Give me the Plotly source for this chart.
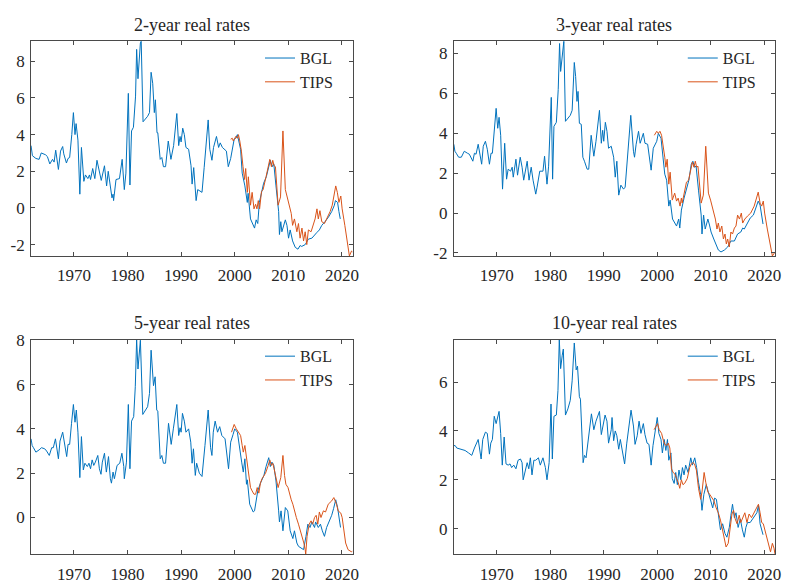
import plotly.graph_objects as go

# ---------------- data ----------------
TITLES = ["2-year real rates", "3-year real rates", "5-year real rates", "10-year real rates"]
X_TICKS = [1970, 1980, 1990, 2000, 2010, 2020]
Y_TICKS = [-2, 0, 2, 4, 6, 8]
Y_TICK_LABELS = ["-2", "0", "2", "4", "6", "8"]

BGL2_YEARS = [1962.0,1962.25,1962.9,1963.5,1963.9,1964.7,1965.05,1965.5,1966.0,1966.3,1966.6,1967.1,1967.5,1967.9,1968.1,1968.6,1968.9,1969.2,1969.6,1969.9,1970.2,1970.4,1970.75,1971.1,1971.4,1971.85,1972.15,1972.6,1972.9,1973.1,1973.5,1973.9,1974.3,1974.8,1975.1,1975.7,1976.1,1976.4,1976.8,1977.1,1977.3,1977.4,1977.85,1978.5,1979.0,1979.4,1979.7,1980.15,1980.45,1980.75,1981.1,1981.5,1981.7,1981.95,1982.4,1982.55,1982.9,1983.3,1983.75,1984.1,1984.4,1984.7,1985.0,1985.2,1985.5,1985.65,1986.1,1986.4,1986.7,1987.1,1987.6,1988.1,1988.6,1989.2,1989.55,1989.8,1990.0,1990.3,1990.6,1990.9,1991.4,1991.85,1992.05,1992.35,1992.8,1993.1,1993.5,1993.9,1994.3,1994.6,1995.05,1995.35,1995.75,1996.05,1996.6,1997.0,1997.3,1997.7,1998.45,1998.8,1999.25,1999.9,2000.2,2000.5,2000.9,2001.1,2001.4,2001.9,2002.35,2002.5,2002.95,2003.45,2003.7,2004.0,2004.3,2004.6,2005.1,2005.4,2005.9,2006.35,2006.65,2007.0,2007.3,2007.7,2008.2,2008.35,2008.6,2008.8,2009.45,2009.75,2010.05,2010.35,2010.8,2011.3,2011.8,2012.2,2012.5,2013.15,2013.75,2014.4,2014.9,2015.3,2015.8,2016.25,2016.85,2017.5,2018.1,2018.6,2018.8,2019.2,2019.45,2019.7]
BGL2_VALUES = [3.4,2.85,2.7,2.65,3.0,2.9,2.8,2.4,2.65,2.5,3.15,2.1,3.1,3.35,2.95,2.45,2.7,2.75,4.0,5.2,4.0,4.6,3.7,0.75,3.3,1.45,1.8,1.6,1.8,1.55,2.15,1.6,2.6,1.9,1.5,2.3,1.2,2.0,1.0,0.55,0.75,0.4,1.55,1.6,2.65,1.0,1.9,6.25,1.25,4.2,4.4,6.1,8.65,7.05,9.0,9.1,4.7,4.85,5.0,5.2,7.4,6.8,5.2,5.9,4.1,4.1,2.65,2.75,2.25,2.25,3.65,2.65,3.4,5.15,3.4,3.9,3.6,4.35,4.0,3.3,3.2,2.3,1.3,2.2,0.4,1.0,0.9,0.85,2.2,3.1,4.8,3.2,2.6,3.3,3.9,3.3,3.55,3.3,3.1,2.25,2.7,3.75,3.8,4.0,3.5,3.2,1.9,1.2,0.3,0.8,-0.6,-0.95,-1.1,-0.65,-0.85,0.3,1.0,1.35,1.7,2.3,2.6,2.25,2.4,1.2,-0.2,-1.45,-0.75,-1.3,-0.65,-0.95,-1.65,-1.2,-1.8,-2.15,-2.25,-2.05,-2.1,-2.0,-1.7,-1.65,-1.45,-1.35,-1.2,-0.95,-0.75,-0.5,-0.2,0.15,0.4,0.3,-0.2,-0.6]
TIPS2_YEARS = [1999.25,1999.55,1999.75,2000.2,2000.5,2000.7,2000.95,2001.25,2001.55,2001.85,2002.05,2002.35,2002.55,2002.95,2003.25,2003.6,2003.9,2004.15,2004.4,2004.65,2005.0,2005.3,2005.85,2006.25,2006.55,2006.85,2007.1,2007.35,2007.6,2008.1,2008.55,2009.0,2009.25,2009.45,2009.75,2010.05,2010.35,2010.55,2010.8,2011.15,2011.6,2011.9,2012.2,2012.55,2012.85,2013.15,2013.45,2013.75,2014.25,2014.7,2015.0,2015.35,2015.6,2015.9,2016.25,2016.75,2017.15,2017.8,2018.2,2018.5,2018.85,2019.15,2019.45,2019.8,2020.05,2020.55,2021.05,2021.4,2021.8,2022.0]
TIPS2_VALUES = [3.75,3.8,3.65,3.9,3.8,4.0,3.65,3.1,2.25,1.55,2.15,0.85,1.7,0.15,0.85,-0.05,0.2,-0.05,0.4,-0.05,0.9,1.0,1.7,2.25,2.65,2.25,2.6,2.3,2.25,0.15,0.6,4.2,2.4,1.0,0.65,0.3,-0.05,-0.3,-0.95,-0.6,-1.3,-0.85,-1.65,-1.1,-1.8,-1.3,-2.0,-1.2,-1.3,-0.95,-0.6,-0.05,-0.6,-0.15,-0.75,-0.85,-0.6,-0.2,0.15,0.55,1.2,0.85,0.3,0.65,-0.05,-0.95,-2.0,-2.62,-2.35,-2.4]

BGL3_YEARS = [1962.0,1962.2,1962.45,1962.9,1963.4,1963.95,1964.55,1964.9,1965.55,1965.85,1966.15,1966.55,1967.2,1967.5,1967.9,1968.25,1968.65,1968.95,1969.2,1969.55,1969.9,1970.2,1970.45,1970.75,1971.1,1971.5,1971.85,1972.15,1972.6,1972.9,1973.1,1973.6,1973.9,1974.4,1974.75,1975.05,1975.7,1976.05,1976.45,1976.8,1977.1,1977.3,1977.55,1978.05,1978.65,1978.95,1979.4,1979.7,1980.2,1980.45,1980.7,1981.15,1981.5,1981.75,1981.95,1982.4,1982.55,1982.85,1983.3,1983.75,1984.1,1984.5,1984.75,1985.0,1985.2,1985.45,1985.8,1986.1,1986.4,1986.9,1987.2,1987.65,1988.15,1988.55,1989.2,1989.55,1989.8,1990.0,1990.3,1990.6,1990.9,1991.4,1991.85,1992.15,1992.45,1992.8,1993.2,1993.7,1994.0,1994.4,1994.6,1995.05,1995.55,1995.75,1996.05,1996.5,1996.8,1997.4,1997.7,1998.2,1998.85,1999.25,1999.9,2000.2,2000.7,2001.1,2001.4,2001.75,2002.15,2002.4,2002.85,2003.6,2004.0,2004.2,2004.5,2005.0,2005.45,2005.9,2006.35,2006.65,2006.95,2007.25,2007.7,2008.2,2008.35,2008.65,2008.95,2009.45,2009.75,2010.05,2010.55,2011.0,2011.4,2011.9,2012.55,2013.15,2013.75,2014.4,2015.0,2015.6,2015.95,2016.25,2016.85,2017.35,2017.95,2018.4,2018.85,2019.2,2019.5,2019.75]
BGL3_VALUES = [3.45,3.1,3.0,2.8,2.8,3.1,3.0,2.95,2.6,3.0,2.95,3.45,2.45,3.35,3.6,3.2,2.45,3.0,3.0,4.1,5.25,4.25,4.8,3.9,1.2,3.5,1.7,2.2,2.1,2.3,1.8,2.7,1.9,2.8,2.3,1.65,2.6,1.65,2.3,1.65,1.15,0.95,1.3,2.1,2.1,2.85,1.45,2.35,5.8,1.7,4.35,4.55,6.2,8.5,7.1,8.55,8.62,4.6,4.75,4.9,5.15,7.55,6.85,5.6,6.1,4.5,4.45,2.8,2.6,2.2,2.2,3.9,2.85,3.6,5.15,3.5,4.15,3.6,4.55,4.1,3.25,3.35,2.8,1.8,2.6,0.9,1.4,1.2,1.3,2.7,3.45,4.9,3.1,2.8,3.45,4.1,3.5,4.0,3.5,3.45,2.15,3.25,3.6,4.0,3.75,2.6,1.95,1.65,0.35,0.65,-0.3,-0.65,-0.3,-0.75,0.15,0.75,1.15,1.65,2.45,2.6,2.3,2.35,1.15,-0.1,-1.05,-0.1,-0.8,-0.3,-0.6,-0.95,-1.3,-1.6,-1.85,-1.95,-1.85,-1.7,-1.4,-1.4,-1.05,-0.95,-0.75,-0.8,-0.5,-0.25,-0.1,0.25,0.6,0.4,-0.1,-0.55]
TIPS3_YEARS = [1999.45,1999.9,2000.2,2000.5,2000.8,2001.1,2001.4,2001.6,2001.85,2002.15,2002.4,2002.8,2003.25,2003.6,2003.9,2004.25,2004.5,2004.65,2005.1,2005.45,2005.85,2006.25,2006.55,2006.85,2007.1,2007.35,2007.6,2008.2,2008.6,2009.05,2009.3,2009.55,2009.95,2010.25,2010.55,2010.85,2011.15,2011.4,2011.7,2012.05,2012.35,2012.65,2012.9,2013.15,2013.45,2013.75,2014.05,2014.4,2014.7,2015.0,2015.35,2015.7,2015.95,2016.35,2016.85,2017.45,2018.1,2018.45,2018.85,2019.2,2019.5,2019.8,2020.05,2020.55,2021.05,2021.5,2022.0]
TIPS3_VALUES = [3.9,4.1,4.0,4.1,3.9,3.45,2.8,2.3,2.7,1.45,2.05,0.65,1.0,0.6,0.75,0.35,0.75,0.5,1.15,1.55,1.65,2.15,2.55,2.3,2.6,2.3,2.35,0.5,0.9,3.35,1.8,1.0,0.65,0.35,0.0,-0.3,-0.8,-0.5,-0.95,-0.65,-1.3,-1.05,-1.55,-1.3,-1.7,-0.95,-1.05,-0.75,-0.65,-0.1,-0.3,0.0,-0.5,-0.3,-0.15,0.0,0.35,0.65,1.05,0.5,0.35,0.6,0.0,-0.8,-1.6,-2.15,-1.95]

BGL5_YEARS = [1962.0,1962.2,1962.45,1962.9,1963.5,1963.95,1964.55,1964.9,1965.4,1965.85,1966.15,1966.55,1967.1,1967.4,1967.9,1968.25,1968.65,1968.9,1969.2,1969.55,1969.9,1970.2,1970.45,1970.75,1971.1,1971.4,1971.75,1972.05,1972.5,1972.8,1973.1,1973.4,1973.7,1974.0,1974.45,1974.75,1975.05,1975.3,1975.7,1976.05,1976.45,1976.8,1977.0,1977.3,1977.55,1978.05,1978.55,1978.95,1979.3,1979.4,1979.8,1980.15,1980.45,1980.75,1981.15,1981.45,1981.7,1981.95,1982.4,1982.85,1983.3,1983.75,1984.1,1984.4,1984.85,1985.15,1985.45,1985.65,1986.1,1986.4,1986.7,1987.1,1987.65,1988.15,1988.55,1989.2,1989.55,1989.8,1990.0,1990.25,1990.6,1990.9,1991.4,1991.8,1992.05,1992.3,1992.65,1992.9,1993.4,1993.9,1994.45,1994.65,1995.05,1995.5,1995.75,1996.0,1996.35,1996.8,1997.2,1997.6,1998.2,1998.85,1999.25,1999.7,2000.0,2000.5,2000.8,2001.3,2001.6,2001.9,2002.2,2002.35,2002.8,2003.45,2003.7,2004.0,2004.3,2004.8,2005.45,2005.85,2006.35,2006.65,2006.95,2007.3,2007.7,2008.2,2008.35,2008.65,2009.0,2009.45,2009.9,2010.35,2010.85,2011.15,2011.6,2011.9,2012.85,2013.3,2013.65,2014.05,2014.4,2014.9,2015.1,2015.6,2016.0,2016.35,2016.75,2017.15,2017.45,2018.1,2018.45,2018.85,2019.2,2019.45,2019.75]
BGL5_VALUES = [3.55,3.25,3.15,2.95,3.05,3.15,3.1,3.0,2.8,3.15,3.15,3.55,2.65,3.45,3.85,3.4,2.75,3.3,3.3,4.25,5.1,4.3,4.85,3.85,1.8,3.65,2.15,2.45,2.3,2.45,2.2,2.6,2.35,2.5,2.8,2.2,1.95,2.5,2.9,2.05,2.75,1.75,1.55,2.05,1.75,2.35,2.45,2.9,2.3,1.75,2.5,5.1,2.2,4.35,4.55,5.9,8.03,6.7,8.0,4.65,4.8,5.0,5.6,7.55,5.95,6.35,4.85,4.8,2.65,2.8,2.45,2.45,4.25,3.3,4.0,5.1,3.7,4.05,3.85,4.7,4.35,3.85,4.0,3.4,2.45,3.1,1.9,2.45,2.0,1.85,3.25,3.7,4.85,3.15,2.8,3.85,4.35,3.85,4.1,3.7,3.55,2.2,3.4,3.75,4.0,3.85,3.25,2.5,2.05,2.65,1.5,1.7,0.6,0.25,0.3,0.75,1.2,1.55,1.9,2.3,2.7,2.3,2.5,2.35,1.65,0.3,-0.2,0.3,-0.6,0.45,0.3,-0.6,-0.95,-0.6,-1.15,-1.3,-1.45,-0.85,-0.3,-0.45,-0.2,-0.45,-0.2,-0.45,-0.3,-0.6,-0.85,-0.45,-0.3,0.1,0.4,0.8,0.45,0.0,-0.45]
TIPS5_YEARS = [1999.4,1999.9,2000.3,2000.6,2001.1,2001.4,2001.6,2001.9,2002.15,2002.35,2002.65,2002.95,2003.25,2003.6,2003.9,2004.2,2004.5,2004.8,2005.1,2005.75,2006.25,2006.55,2006.85,2007.1,2007.35,2007.9,2008.1,2008.6,2009.0,2009.3,2009.55,2009.95,2010.25,2010.55,2010.85,2011.15,2011.5,2011.9,2012.3,2012.65,2012.9,2013.15,2013.25,2013.5,2013.9,2014.25,2014.55,2014.9,2015.2,2015.5,2015.8,2016.1,2016.55,2016.95,2017.45,2018.1,2018.5,2019.0,2019.3,2019.8,2020.05,2020.7,2021.15,2021.8,2022.0]
TIPS5_VALUES = [3.85,4.2,4.0,3.9,3.7,3.25,2.95,3.25,2.8,2.35,1.7,1.35,1.2,1.05,1.05,1.35,1.1,1.55,1.75,2.0,2.35,2.6,2.35,2.45,2.2,1.5,1.35,1.8,2.8,1.9,1.5,1.35,1.05,0.8,0.6,0.3,0.0,-0.3,-0.6,-0.95,-1.15,-1.45,-1.66,-0.85,-0.3,-0.15,-0.3,0.0,0.1,-0.3,0.25,0.0,0.3,0.25,0.6,0.75,0.9,0.6,0.3,0.2,0.0,-1.15,-1.45,-1.55,-1.5]

BGL10_YEARS = [1962.0,1962.25,1962.55,1963.5,1964.1,1964.75,1965.35,1965.85,1966.55,1967.1,1967.4,1967.9,1968.25,1968.65,1968.9,1969.2,1969.55,1969.9,1970.45,1970.75,1971.05,1971.4,1971.75,1972.15,1972.5,1972.8,1973.2,1973.6,1974.0,1974.45,1974.75,1974.95,1975.25,1975.7,1976.0,1976.3,1976.6,1976.95,1977.3,1977.8,1978.15,1978.65,1979.1,1979.4,1979.8,1980.15,1980.4,1980.7,1981.15,1981.45,1981.7,1981.95,1982.25,1982.45,1982.85,1983.3,1983.75,1984.1,1984.5,1984.85,1985.1,1985.45,1985.65,1986.15,1986.4,1986.7,1987.7,1988.15,1988.55,1989.2,1989.55,1990.0,1990.25,1990.6,1990.9,1991.4,1991.55,1991.85,1992.15,1992.45,1992.8,1993.1,1993.4,1993.9,1994.3,1994.75,1995.1,1995.55,1995.85,1996.25,1996.6,1996.95,1997.4,1997.7,1998.1,1998.45,1998.85,1999.2,1999.55,2000.0,2000.3,2000.7,2000.95,2001.3,2001.6,2001.9,2002.15,2002.55,2002.8,2003.15,2003.45,2003.75,2004.05,2004.4,2004.7,2005.0,2005.3,2005.75,2006.25,2006.55,2007.0,2007.35,2007.7,2008.1,2008.35,2008.7,2009.15,2009.55,2009.95,2010.35,2010.7,2011.05,2011.4,2011.8,2012.2,2012.65,2013.0,2013.45,2013.75,2014.05,2014.4,2014.7,2015.1,2015.5,2015.9,2016.25,2016.55,2016.85,2017.35,2017.8,2018.2,2018.6,2018.9,2019.2,2019.75]
BGL10_VALUES = [3.4,3.4,3.3,3.25,3.2,3.1,3.0,3.3,3.65,2.85,3.65,3.95,3.9,3.05,3.5,3.65,4.6,4.3,4.8,3.9,2.6,3.75,2.65,2.6,2.65,2.5,2.6,2.45,2.8,2.85,2.7,2.0,2.3,2.7,2.45,2.9,2.2,2.8,2.8,2.9,2.6,2.9,2.5,2.0,2.7,5.1,2.85,4.6,4.65,5.65,7.74,6.55,7.1,7.35,4.65,4.9,5.25,6.05,7.6,6.5,6.65,5.4,5.3,2.7,3.0,2.9,4.7,4.05,4.4,4.8,3.85,4.4,4.65,4.4,3.5,4.05,4.55,3.6,4.0,3.8,3.25,3.65,3.3,2.65,3.5,4.3,4.85,4.2,3.45,3.8,4.4,3.9,4.3,3.85,3.5,3.45,2.6,3.4,3.9,4.55,3.9,3.65,3.1,3.65,3.2,3.65,2.8,3.1,2.05,1.85,2.3,1.8,2.4,2.0,2.5,2.2,2.6,2.3,2.9,2.6,2.9,2.5,1.9,1.4,0.75,1.4,1.8,1.5,1.25,0.85,1.25,1.2,0.6,-0.05,0.2,-0.2,-0.35,0.05,0.55,1.0,0.45,0.65,0.05,0.4,-0.05,-0.35,0.05,0.25,0.25,0.4,0.55,0.65,0.95,0.2,-0.25]
TIPS10_YEARS = [1999.4,1999.75,2000.05,2000.35,2000.8,2001.15,2001.4,2001.75,2002.05,2002.35,2002.65,2002.95,2003.25,2003.6,2003.9,2004.2,2004.5,2004.8,2005.1,2005.6,2006.05,2006.35,2006.65,2006.95,2007.3,2007.7,2008.1,2008.35,2008.75,2009.05,2009.45,2009.8,2010.2,2010.55,2011.0,2011.4,2011.8,2012.2,2012.55,2012.85,2013.25,2013.65,2013.95,2014.25,2014.55,2014.9,2015.3,2015.6,2016.0,2016.35,2016.75,2017.15,2017.6,2018.1,2018.5,2018.9,2019.2,2019.5,2019.8,2020.1,2020.55,2020.9,2021.15,2021.5,2021.8,2022.0]
TIPS10_VALUES = [4.05,4.2,4.3,4.05,3.9,3.6,3.45,3.4,3.5,3.3,2.45,2.3,2.25,2.05,1.9,1.65,2.0,1.8,1.85,2.05,2.5,2.65,2.7,2.65,2.4,1.65,1.2,1.5,2.3,1.9,1.5,1.4,1.25,1.15,0.85,0.65,0.35,-0.05,-0.35,-0.75,-0.6,0.25,0.6,0.75,0.4,0.2,0.55,0.25,0.45,0.65,0.25,0.6,0.45,0.65,0.8,1.0,0.65,0.25,0.2,-0.05,-0.45,-0.75,-0.95,-0.6,-0.8,-1.05]

PANELS = [
    (BGL2_YEARS, BGL2_VALUES, TIPS2_YEARS, TIPS2_VALUES),
    (BGL3_YEARS, BGL3_VALUES, TIPS3_YEARS, TIPS3_VALUES),
    (BGL5_YEARS, BGL5_VALUES, TIPS5_YEARS, TIPS5_VALUES),
    (BGL10_YEARS, BGL10_VALUES, TIPS10_YEARS, TIPS10_VALUES),
]
for p in PANELS:
    assert len(p[0]) == len(p[1]), (len(p[0]), len(p[1]))
    assert len(p[2]) == len(p[3]), (len(p[2]), len(p[3]))

# ---------------- styling ----------------
W, H = 790, 584
BLUE = "#0072BD"
ORANGE = "#D95319"
AXC = "#4a4a4a"
TXT = "#262626"
FONT = "Liberation Serif"

# pixel boxes of the four axes: (left, right, top, bottom)
BOXES = [(31.3, 355.3, 34.0, 254.5), (457.3, 781.0, 34.0, 254.5),
         (31.3, 355.3, 340.3, 560.7), (457.3, 781.0, 340.3, 560.7)]
TITLE_Y = [17, 17, 323, 323]
LEGEND_X = [262, 688, 262, 688]
LEGEND_TOP = [34, 34, 340, 340]

fig = go.Figure()
layout = dict(width=W, height=H, margin=dict(l=0, r=0, t=0, b=0),
              paper_bgcolor="white", plot_bgcolor="white", showlegend=True,
              annotations=[])

for i, (bx, bv, tx, tv) in enumerate(PANELS):
    n = "" if i == 0 else str(i + 1)
    leg = "legend" if i == 0 else f"legend{i+1}"
    fig.add_trace(go.Scatter(x=bx, y=bv, mode="lines", name="BGL",
                             line=dict(color=BLUE, width=1),
                             xaxis="x" + n, yaxis="y" + n, legend=leg))
    fig.add_trace(go.Scatter(x=tx, y=tv, mode="lines", name="TIPS",
                             line=dict(color=ORANGE, width=1),
                             xaxis="x" + n, yaxis="y" + n, legend=leg))
    allx = list(bx) + list(tx)
    ally = list(bv) + list(tv)
    l, r, t, b = BOXES[i]
    common = dict(showline=True, linecolor=AXC, linewidth=1, mirror="ticks",
                  ticks="inside", ticklen=4, tickcolor=AXC, tickwidth=1,
                  showgrid=False, zeroline=False,
                  tickfont=dict(family=FONT, size=17, color=TXT))
    layout["xaxis" + n] = dict(common, domain=[l / W, r / W],
                               range=[min(allx), max(allx)],
                               tickvals=X_TICKS, anchor="y" + n,
                               ticklabelstandoff=4)
    layout["yaxis" + n] = dict(common, domain=[1 - b / H, 1 - t / H],
                               range=[min(ally), max(ally)],
                               tickvals=Y_TICKS, ticktext=Y_TICK_LABELS,
                               anchor="x" + n, ticklabelstandoff=2)
    layout[leg] = dict(x=LEGEND_X[i] / W, y=1 - LEGEND_TOP[i] / H,
                       xanchor="left", yanchor="top",
                       bgcolor="rgba(0,0,0,0)", borderwidth=0,
                       font=dict(family=FONT, size=16, color=TXT),
                       tracegroupgap=0)
    layout["annotations"].append(dict(
        text=TITLES[i], x=(l + r) / 2 / W, y=1 - TITLE_Y[i] / H,
        xref="paper", yref="paper", xanchor="center", yanchor="middle",
        showarrow=False, font=dict(family=FONT, size=18, color=TXT)))

fig.update_layout(**layout)
fig.write_html("out.html")
